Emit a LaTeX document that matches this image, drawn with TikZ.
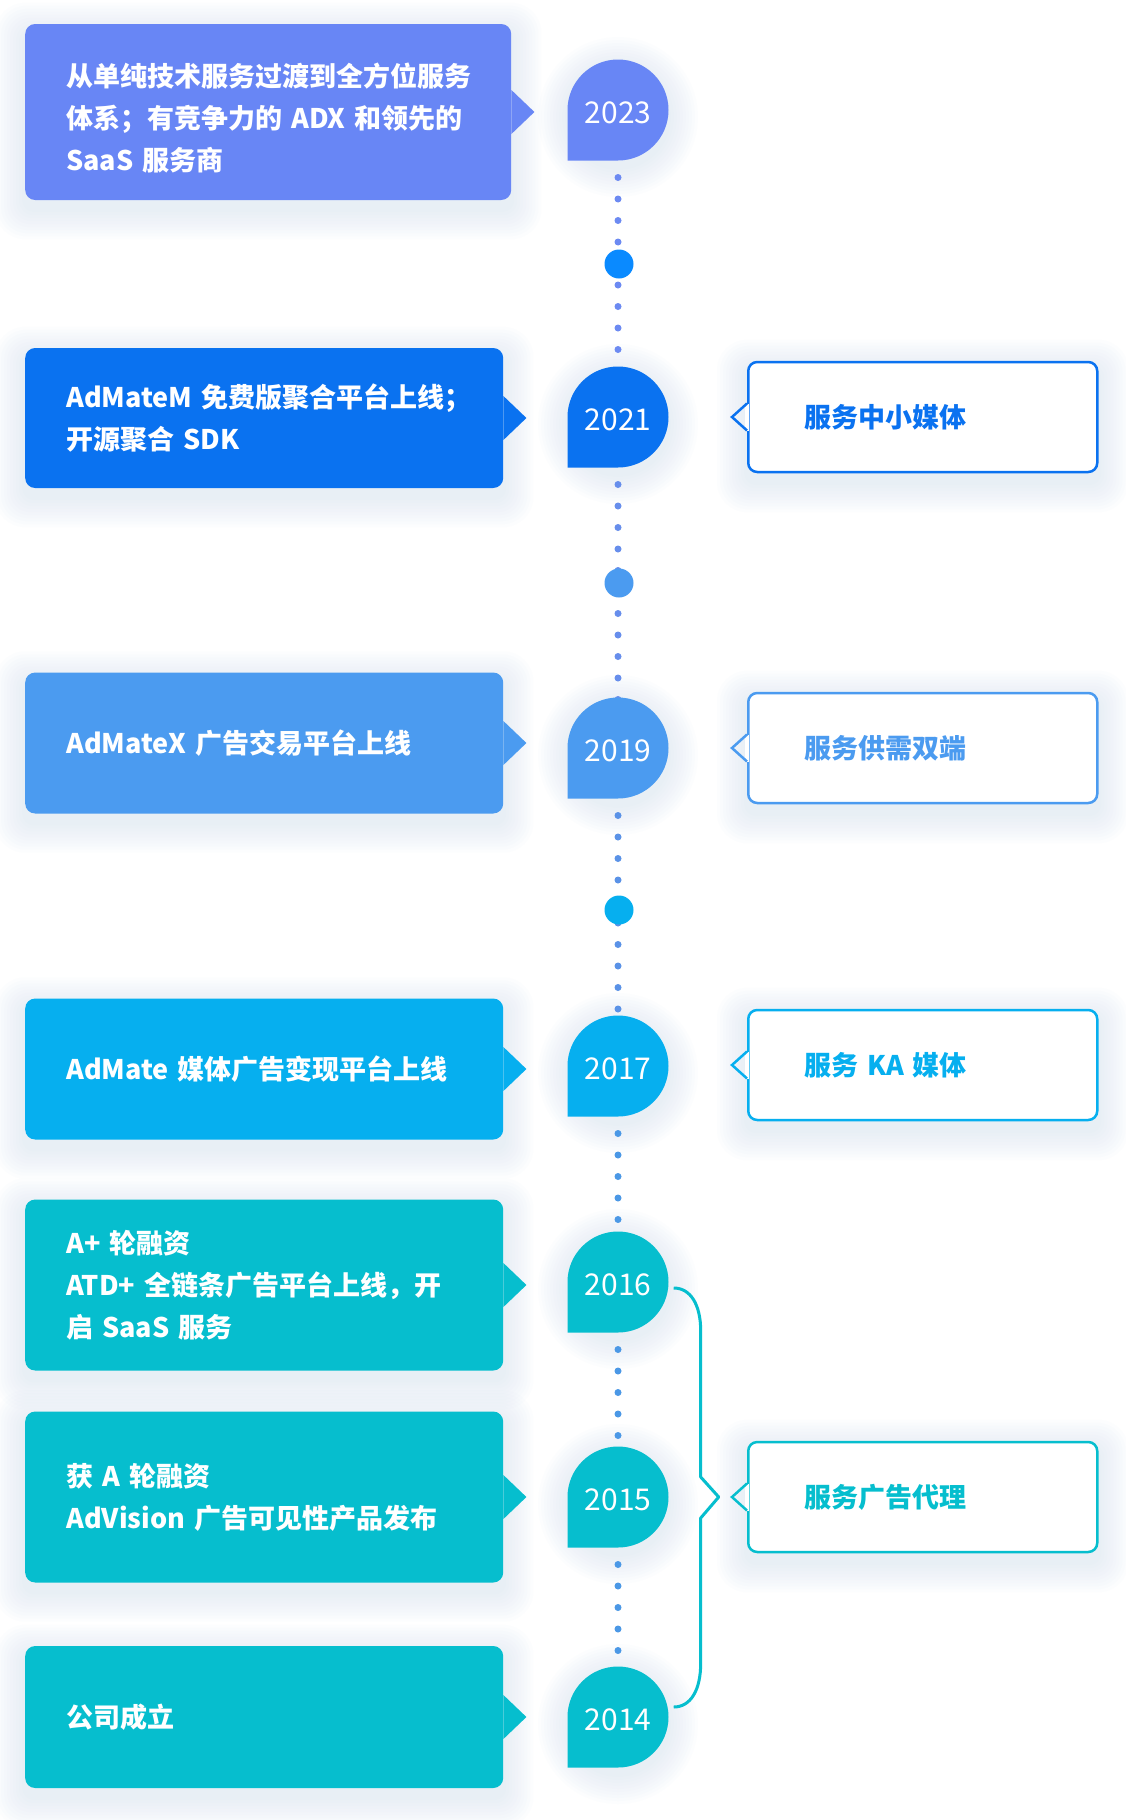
\documentclass[tikz,border=0pt]{standalone}
\usepackage{fontspec}
\setmainfont{Noto Sans CJK SC}
\usetikzlibrary{positioning,backgrounds}

\definecolor{c23}{HTML}{6886F5}
\definecolor{c21}{HTML}{0A72F0}
\definecolor{c19}{HTML}{4B9BF0}
\definecolor{c17}{HTML}{06AFEF}
\definecolor{c16}{HTML}{06BECE}
\definecolor{dotA}{HTML}{0A8AFF}
\definecolor{lineA}{HTML}{6C8AF2}
\definecolor{lineB}{HTML}{678EEC}
\definecolor{lineC}{HTML}{5A92E7}
\definecolor{lineD}{HTML}{4B98E6}
\definecolor{glow}{HTML}{A3CAD6}

\tikzset{
    event/.style={fill=#1, text=white, rounded corners=10pt, inner xsep=41pt,
        inner ysep=0pt, text width=396pt, align=left, anchor=west,
        font=\fontsize{27}{42}\selectfont\bfseries},
    service/.style={draw=#1, fill=white, text=#1, line width=2.5pt,
        rounded corners=9pt, inner xsep=56pt, text width=237pt, align=left,
        minimum height=110pt, anchor=west,
        font=\fontsize{27}{32}\selectfont\bfseries},
    yeartag/.style={circle, minimum size=101pt, inner sep=0pt, text=white,
        yshift=-3pt, font=\fontsize{30}{30}\selectfont},
    bigdot/.style={circle, fill=#1, minimum size=29pt, inner sep=0pt},
    dots/.style={draw=#1, line width=7pt, line cap=round,
        dash pattern=on 0pt off 21.5pt},
    brace/.style={draw=c16, line width=3pt, line join=round},
    halo/.style={fill=glow, opacity=0.022}
}

\begin{document}
\begin{tikzpicture}[x=1pt, y=-1pt]
    \useasboundingbox (0,0) rectangle (1126,1820);

    % year tags
    \foreach \yr/\yy/\c in {2023/110/c23, 2021/417/c21, 2019/748/c19,
        2017/1066/c17, 2016/1282/c16, 2015/1497/c16, 2014/1717/c16} {
        \fill[\c] (567.5,{\yy+50.5}) -- (567.5,\yy)
            arc[start angle=180, end angle=450, radius=50.5] -- cycle;
        \node[yeartag] (y\yr) at (618,\yy) {\yr};
    }

    \node[bigdot=dotA] (d1) at (619,264) {};
    \node[bigdot=c19] (d2) at (619,583) {};
    \node[bigdot=c17] (d3) at (619,910) {};

    % events
    \node[event=c23, text width=404pt, minimum height=176pt] (e2023) at (25,112)
        {\rule{0pt}{36pt}从单纯技术服务过渡到全方位服务\\体系；有竞争力的~ADX~和领先的\\SaaS~服务商};
    \node[event=c21, minimum height=140pt] (e2021) at (25,418)
        {AdMateM~免费版聚合平台上线；\\开源聚合~SDK};
    \node[event=c19, minimum height=141pt] (e2019) at (25,743)
        {AdMateX~广告交易平台上线};
    \node[event=c17, minimum height=141pt] (e2017) at (25,1069)
        {AdMate~媒体广告变现平台上线};
    \node[event=c16, minimum height=171pt] (e2016) at (25,1285)
        {A+~轮融资\\ATD+~全链条广告平台上线，开\\启~SaaS~服务};
    \node[event=c16, minimum height=171pt] (e2015) at (25,1497)
        {获~A~轮融资\\AdVision~广告可见性产品发布};
    \node[event=c16, minimum height=142pt] (e2014) at (25,1717)
        {公司成立};

    \foreach \n/\c in {e2023/c23, e2021/c21, e2019/c19, e2017/c17,
        e2016/c16, e2015/c16, e2014/c16}
        \fill[\c] ([yshift=22pt]\n.east) -- ++(23,22) -- ([yshift=-22pt]\n.east) -- cycle;

    % services
    \node[service=c21] (s2021) at (747,417) {服务中小媒体};
    \node[service=c19] (s2019) at (747,748) {服务供需双端};
    \node[service=c17] (s2017) at (747,1065) {服务~KA~媒体};
    \node[service=c16] (s2015) at (747,1497) {服务广告代理};

    \foreach \n/\c in {s2021/c21, s2019/c19, s2017/c17, s2015/c16} {
        \fill[white] ([xshift=-2pt, yshift=-13.5pt]\n.west) rectangle ([xshift=2pt, yshift=13.5pt]\n.west);
        \draw[\c, line width=2.5pt] ([yshift=13.5pt]\n.west) -- ++(-15,13.5) -- ([yshift=-13.5pt]\n.west);
    }

    % brace for 2014-2016
    \draw[brace] ([shift={(5,3)}]y2016.east) .. controls +(17,0) and +(0,-26) .. ++(27,43)
        -- ++(0,146) -- ++(18,20) -- ++(-18,21) -- ++(0,145)
        .. controls +(0,27) and +(17,0) .. ++(-27,44);

    \begin{scope}[on background layer]
        \fill[white] (0,0) rectangle (1126,1820);
        % soft shadows
        \foreach \n in {e2023, e2021, e2019, e2017, e2016, e2015, e2014,
            s2021, s2019, s2017, s2015}
            \foreach \k in {1,...,10}
                \fill[halo, rounded corners={10pt+\k*2pt}]
                    ([shift={(-\k*3,-\k*3+9)}]\n.north west)
                    rectangle ([shift={(\k*3,\k*3+9)}]\n.south east);
        \foreach \n in {y2023, y2021, y2019, y2017, y2016, y2015, y2014}
            \foreach \k in {1,...,10}
                \fill[halo] ([yshift=-4pt]\n.center) circle[radius={50+\k*3}];
        \draw[dots=lineA] (y2023.center) -- (y2021.center);
        \draw[dots=lineB] (y2021.center) -- (y2019.center);
        \draw[dots=lineC] (y2019.center) -- (y2017.center);
        \draw[dots=lineD] (y2017.center) -- (y2016.center);
        \draw[dots=lineD] (y2016.center) -- (y2015.center);
        \draw[dots=lineD] (y2015.center) -- (y2014.center);
    \end{scope}
\end{tikzpicture}
\end{document}
